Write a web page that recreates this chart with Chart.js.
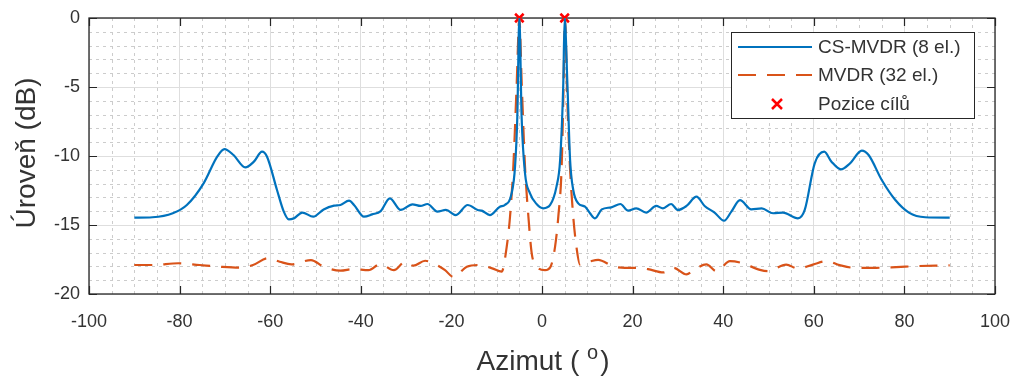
<!DOCTYPE html>
<html>
<head>
<title>CS-MVDR vs MVDR</title>
<script src="https://cdn.jsdelivr.net/npm/chart.js@4"></script>
<style>
  body { margin: 0; background: #fff; }
</style>
</head>
<body>
<canvas id="beam" width="1019" height="383"></canvas>
<script>
// CS-MVDR (8 el.) - azimut / uroven
var csAz = [-90, -86, -81.5, -78.4, -74.7, -71.7, -70.1, -68.1, -65.5, -63.6, -61.8, -60.7, -58.5, -57, -55.9, -54.8, -52.9, -50.5,
  -48.2, -45.9, -44.5, -42.6, -41.5, -39.3, -37.5, -35.6, -33.6, -31.2, -28.6, -26.8, -25.3, -23.1, -21.2, -19, -16.4, -14.2,
  -13.3, -11.5, -9.3, -8.2, -6.7, -5.95, -5.45, -5, -4.5, -3.75, -2.65, -1.2, 0.3, 1.8, 3.2, 4.0, 4.7, 5, 5.6, 6.2, 6.9, 8,
  9.5, 10.6, 11.7, 13.2, 15.3, 17.3, 19, 20.8, 23, 25.2, 26.7, 28.5, 30, 31.9, 34.1, 35.9, 38.1, 40.2, 41.8, 43.7, 46.2, 48.5,
  51, 53.2, 56.5, 58, 60.2, 62.3, 63.9, 66, 68, 70.6, 72.1, 75, 78, 81, 84.6, 90];
var csDb = [-14.47, -14.44, -14.15, -13.55, -11.98, -10.05, -9.5, -9.93, -10.82, -10.41, -9.69, -10.05, -12.46, -14.03, -14.59, -14.52, -14.1, -14.4,
  -13.87, -13.6, -13.55, -13.24, -13.55, -14.4, -14.23, -13.99, -13.07, -13.91, -13.5, -13.62, -13.48, -14.03, -13.91, -14.28, -13.55, -13.91,
  -13.96, -14.28, -13.67, -13.55, -12.7, -10.77, -7.15, 0, -7.15, -11.25, -12.7, -13.48, -13.79, -13.55, -12.22, -10.29, -4.73, 0, -4.73, -10.29, -12.46, -13.43,
  -13.67, -14.15, -14.52, -13.87, -13.72, -13.48, -13.96, -13.79, -14.1, -13.62, -13.79, -13.48, -13.91, -13.62, -12.95, -13.62, -14.1, -14.69, -14.03, -13.2, -13.87, -13.8,
  -14.15, -14.1, -14.52, -13.91, -10.53, -9.69, -10.41, -10.97, -10.53, -9.61, -9.93, -11.74, -13.19, -14.1, -14.44, -14.47];

// MVDR (32 el.)
var mvAz = [-90, -85.8, -80.3, -75.6, -71.2, -66.8, -63.8, -60.5, -57.9, -55.3, -51, -48.2, -44.5, -41.6, -38.3, -35.7, -32.7, -30.2,
  -28.4, -25.8, -24, -21.4, -19.6, -16.6, -14, -11, -8.9, -7.8, -7.06, -6.33, -5.58, -5, -4.48, -3.75, -3, -2.27, -1.17, 0.66,
  1.92, 2.87, 3.6, 4.34, 4.7, 5.07, 5.58, 6.17, 6.9, 7.65, 8.38, 10.6, 12.4, 15.7, 18.3, 21.2, 23.4, 26.8, 29, 31.9, 33.7,
  36.3, 38.5, 41.5, 44, 48.1, 49.9, 53.9, 56.5, 59.8, 62.8, 65.7, 69, 73.8, 78.2, 82.6, 88.5, 90];
var mvDb = [-17.9, -17.9, -17.77, -17.9, -18.02, -18.09, -17.9, -17.41, -17.66, -17.85, -17.54, -18.02, -18.31, -18.19, -18.27, -17.83, -18.27, -17.66,
  -17.95, -17.59, -17.77, -18.27, -18.76, -18.02, -17.9, -18.14, -18.38, -16.6, -14.4, -10.77, -4.73, 0, -4.73, -10.77, -14.4, -17.05, -18, -18.27,
  -18, -16.6, -14.4, -10.77, -5.9, 0, -5.9, -10.77, -14.4, -16.7, -17.88, -17.64, -17.52, -17.99, -18.1, -18.1, -18.2, -18.44, -18.1, -18.58, -18.22,
  -17.86, -18.35, -17.62, -17.74, -18.25, -18.35, -17.87, -18.16, -17.87, -17.62, -17.91, -18.1, -18.1, -18.05, -17.98, -17.93, -17.92];

// Pozice cilu
var targetAz = [-5, 5];
var targetDb = [0, 0];

var xTicks = [-100, -80, -60, -40, -20, 0, 20, 40, 60, 80, 100];
var yTicks = [-20, -15, -10, -5, 0];

function pts(xs, ys) {
  return xs.map(function (x, i) { return { x: x, y: ys[i] }; });
}

var axisColor = '#262626';
var textColor = '#333333';
var fontName = '"Liberation Sans", Arial, sans-serif';

// minor grid, box, ticks, titles, legend
var matlabAxes = {
  id: 'matlabAxes',
  beforeDatasetsDraw: function (chart) {
    var c = chart.ctx, a = chart.chartArea, xs = chart.scales.x, ys = chart.scales.y;
    c.save();
    c.strokeStyle = '#cccccc';
    c.lineWidth = 1;
    c.setLineDash([3, 4]);
    for (var v = -95; v < 100; v += 5) {
      if (v % 20 === 0) continue;
      var px = Math.round(xs.getPixelForValue(v)) + 0.5;
      c.beginPath(); c.moveTo(px, a.top); c.lineTo(px, a.bottom); c.stroke();
    }
    for (var w = -19; w < 0; w++) {
      if (w % 5 === 0) continue;
      var py = Math.round(ys.getPixelForValue(w)) + 0.5;
      c.beginPath(); c.moveTo(a.left, py); c.lineTo(a.right, py); c.stroke();
    }
    c.setLineDash([]);
    // box
    c.strokeStyle = axisColor;
    c.lineWidth = 1.3;
    c.strokeRect(a.left, a.top, a.right - a.left, a.bottom - a.top);
    // inward major ticks
    c.lineWidth = 1.2;
    xTicks.forEach(function (t) {
      var px = Math.round(xs.getPixelForValue(t)) + 0.5;
      c.beginPath();
      c.moveTo(px, a.bottom); c.lineTo(px, a.bottom - 8);
      c.moveTo(px, a.top); c.lineTo(px, a.top + 8);
      c.stroke();
    });
    yTicks.forEach(function (t) {
      var py = Math.round(ys.getPixelForValue(t)) + 0.5;
      c.beginPath();
      c.moveTo(a.left, py); c.lineTo(a.left + 8, py);
      c.moveTo(a.right, py); c.lineTo(a.right - 8, py);
      c.stroke();
    });
    c.restore();
  },
  afterDraw: function (chart) {
    var c = chart.ctx, a = chart.chartArea;
    c.save();
    c.fillStyle = textColor;
    // y title
    c.font = '28px ' + fontName;
    c.textAlign = 'center';
    c.textBaseline = 'middle';
    c.translate(27, (a.top + a.bottom) / 2 - 3);
    c.rotate(-Math.PI / 2);
    c.fillText('Úroveň (dB)', 0, 0);
    c.restore();

    // x title with superscript
    c.save();
    c.fillStyle = textColor;
    c.textBaseline = 'alphabetic';
    c.textAlign = 'left';
    var big = '28px ' + fontName, small = '20px ' + fontName;
    c.font = big;
    var p1 = 'Azimut ( ', p3 = ')';
    var w1 = c.measureText(p1).width, w3 = c.measureText(p3).width;
    c.font = small;
    var w2 = c.measureText('o').width;
    var x0 = (a.left + a.right) / 2 - (w1 + w2 + w3) / 2;
    var base = 370;
    c.font = big;
    c.fillText(p1, x0, base);
    c.font = small;
    c.fillText('o', x0 + w1, base - 11);
    c.font = big;
    c.fillText(p3, x0 + w1 + w2 + 2, base);
    c.restore();

    // legend
    c.save();
    var bx = 731, by = 32, bw = 243, bh = 86;
    c.fillStyle = '#fff';
    c.fillRect(bx, by, bw, bh);
    c.strokeStyle = axisColor;
    c.lineWidth = 1;
    c.strokeRect(bx + 0.5, by + 0.5, bw, bh);
    var rows = [47, 75, 104];
    c.font = '19px ' + fontName;
    c.textBaseline = 'middle';
    c.textAlign = 'left';
    chart.data.datasets.forEach(function (ds, i) {
      var y = rows[i];
      c.strokeStyle = ds.borderColor;
      c.lineWidth = ds.showLine === false ? 2.5 : 2.2;
      if (ds.showLine === false) {
        var cx = 777, r = 5;
        c.beginPath();
        c.moveTo(cx - r, y - r); c.lineTo(cx + r, y + r);
        c.moveTo(cx - r, y + r); c.lineTo(cx + r, y - r);
        c.stroke();
      } else {
        c.setLineDash(ds.borderDash || []);
        c.beginPath(); c.moveTo(738, y); c.lineTo(812, y); c.stroke();
        c.setLineDash([]);
      }
      c.fillStyle = textColor;
      c.fillText(ds.label, 818, y + 1);
    });
    c.restore();
  }
};

new Chart(document.getElementById('beam'), {
  type: 'line',
  data: {
    datasets: [
      {
        label: 'CS-MVDR (8 el.)',
        data: pts(csAz, csDb),
        borderColor: '#0072BD',
        borderWidth: 2.2,
        pointRadius: 0,
        cubicInterpolationMode: 'monotone',
        fill: false
      },
      {
        label: 'MVDR (32 el.)',
        data: pts(mvAz, mvDb),
        borderColor: '#D95319',
        borderWidth: 2.2,
        borderDash: [18, 11],
        pointRadius: 0,
        cubicInterpolationMode: 'monotone',
        fill: false
      },
      {
        label: 'Pozice cílů',
        data: pts(targetAz, targetDb),
        showLine: false,
        borderColor: '#FF0000',
        backgroundColor: '#FF0000',
        pointStyle: 'crossRot',
        pointRadius: 6,
        pointBorderWidth: 2.5,
        clip: false
      }
    ]
  },
  options: {
    responsive: false,
    devicePixelRatio: 1,
    animation: false,
    layout: { padding: { top: 18, right: 24, left: 0, bottom: 0 } },
    plugins: { legend: { display: false }, tooltip: { enabled: false } },
    scales: {
      x: {
        type: 'linear',
        min: -100, max: 100,
        afterFit: function (s) { s.height = 89; s.paddingLeft = 0; s.paddingRight = 0; },
        afterBuildTicks: function (s) { s.ticks = xTicks.map(function (v) { return { value: v }; }); },
        ticks: { color: textColor, font: { family: fontName, size: 18 }, padding: 17, maxRotation: 0, autoSkip: false },
        grid: { color: '#dedede', drawTicks: false },
        border: { display: false }
      },
      y: {
        min: -20, max: 0,
        afterFit: function (s) { s.width = 89; s.paddingTop = 0; s.paddingBottom = 0; },
        afterBuildTicks: function (s) { s.ticks = yTicks.map(function (v) { return { value: v }; }); },
        ticks: { color: textColor, font: { family: fontName, size: 18 }, padding: 9 },
        grid: { color: '#dedede', drawTicks: false },
        border: { display: false }
      }
    }
  },
  plugins: [matlabAxes]
});
</script>
</body>
</html>
